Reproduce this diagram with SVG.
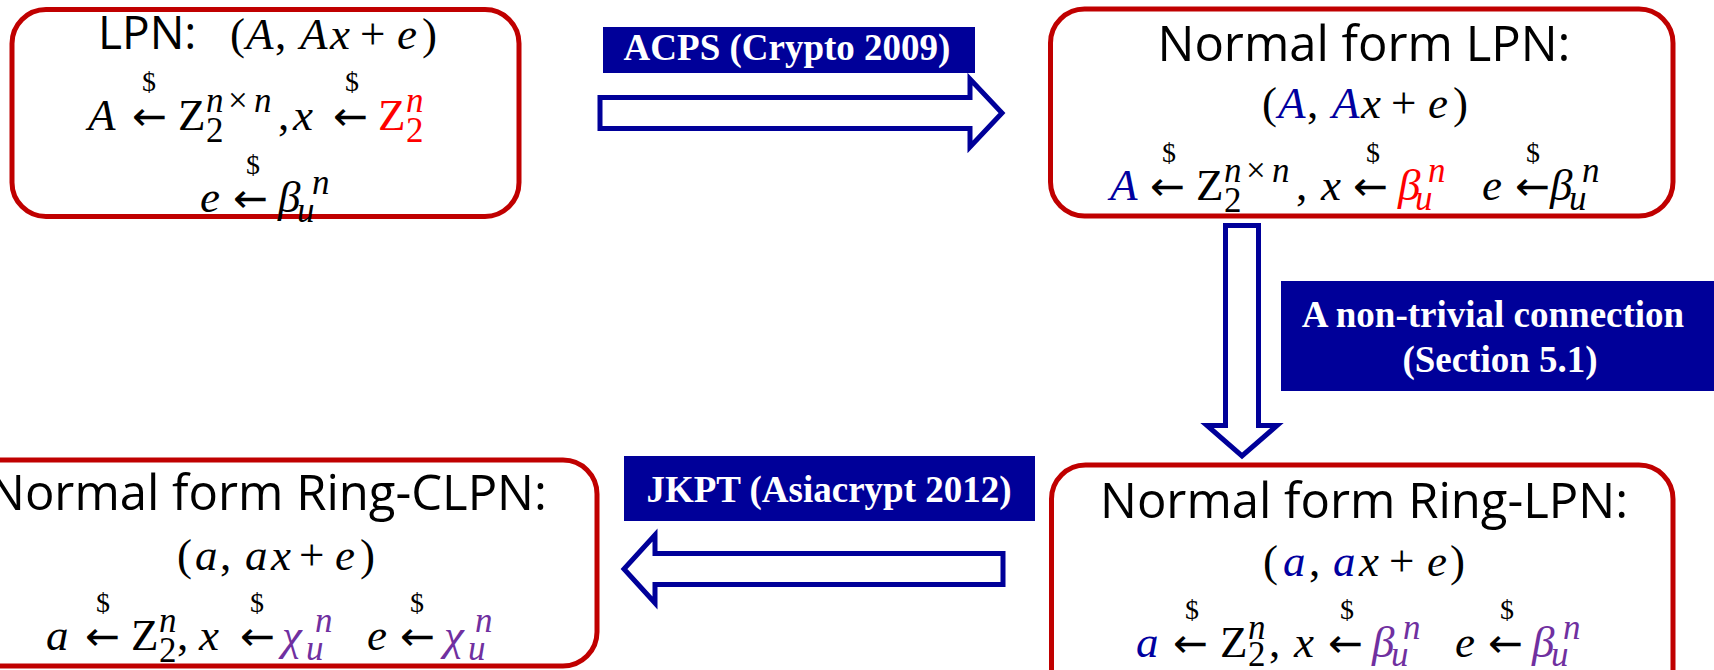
<svg xmlns="http://www.w3.org/2000/svg" width="1714" height="670" viewBox="0 0 1714 670">
<style>
.box{fill:#fff;stroke:#C00000;stroke-width:5}
.arrow{fill:#fff;stroke:#000099;stroke-width:5;stroke-linejoin:miter}
.lblbg{fill:#000099}
.lbl{font-family:"Liberation Serif",serif;font-weight:bold;font-size:37px;fill:#fff;text-anchor:middle}
.t{font-family:"Open Sans","Noto Sans",sans-serif;font-size:49px;fill:#000}
.m{font-family:"Liberation Serif","DejaVu Serif",serif;font-size:45px;fill:#000}
.la{font-family:"DejaVu Sans",sans-serif;font-size:40px;fill:#000}
.i{font-style:italic}
.s{font-size:35px}
.d{font-size:28px;text-anchor:middle}
.b{fill:#0000A0}
.r{fill:#FF0000}
.p{fill:#7030A0}
</style>
<defs>
<symbol id="la" overflow="visible"><text class="la" x="0" y="0" textLength="35" lengthAdjust="spacingAndGlyphs">←</text></symbol>
</defs>

<g id="connectors">
<polygon class="arrow" points="600,97.5 970,97.5 970,79 1002,113 970,147 970,128.5 600,128.5"/>
<rect class="lblbg" x="603" y="27" width="372" height="46"/>
<text class="lbl" x="787" y="60">ACPS (Crypto 2009)</text>

<polygon class="arrow" points="1225.5,225.5 1258.5,225.5 1258.5,425.5 1277,425.5 1242,456 1207,425.5 1225.5,425.5"/>
<rect class="lblbg" x="1281" y="281" width="440" height="110"/>
<text class="lbl" x="1493" y="327">A non-trivial connection</text>
<text class="lbl" x="1500" y="372">(Section 5.1)</text>

<polygon class="arrow" points="1003,553.5 655,553.5 655,535 624,569 655,603 655,584.5 1003,584.5"/>
<rect class="lblbg" x="624" y="456" width="411" height="65"/>
<text class="lbl" x="829" y="502">JKPT (Asiacrypt 2012)</text>
</g>

<g id="lpn">
<rect class="box" x="12" y="9.5" width="507" height="207" rx="34"/>
<text class="t" x="98" y="49" style="font-size:46px">LPN:</text>
<text class="m" y="49"><tspan x="230">(</tspan><tspan x="246" class="i">A</tspan><tspan x="275">,</tspan><tspan x="300" class="i">A</tspan><tspan x="330" class="i">x</tspan><tspan x="360">+</tspan><tspan x="397" class="i">e</tspan><tspan x="422">)</tspan></text>
<text class="m i" x="88" y="130">A</text>
<use href="#la" x="132" y="130"/>
<text class="m d" x="149" y="91">$</text>
<text class="m" x="178" y="130">Z</text>
<text class="m s" y="112"><tspan x="206" class="i">n</tspan><tspan x="228">×</tspan><tspan x="254" class="i">n</tspan></text>
<text class="m s" x="206" y="142">2</text>
<text class="m" x="278" y="130">,</text>
<text class="m i" x="293" y="130">x</text>
<use href="#la" x="333" y="130"/>
<text class="m d" x="352" y="91">$</text>
<text class="m r" x="378" y="130">Z</text>
<text class="m s i r" x="406" y="112">n</text>
<text class="m s r" x="406" y="142">2</text>
<text class="m i" x="200" y="212">e</text>
<use href="#la" x="233" y="212"/>
<text class="m d" x="253" y="174">$</text>
<text class="m i" x="278" y="212">β</text>
<text class="m s i" x="312" y="194">n</text>
<text class="m s i" x="297" y="222">u</text>
</g>

<g id="normal-lpn">
<rect class="box" x="1050.5" y="9" width="622.5" height="207" rx="34"/>
<text class="t" x="1364" y="61" text-anchor="middle">Normal form LPN:</text>
<text class="m" y="118"><tspan x="1262">(</tspan><tspan x="1278" class="i b">A</tspan><tspan x="1307">,</tspan><tspan x="1332" class="i b">A</tspan><tspan x="1361" class="i">x</tspan><tspan x="1391">+</tspan><tspan x="1428" class="i">e</tspan><tspan x="1453">)</tspan></text>
<text class="m i b" x="1110" y="200">A</text>
<use href="#la" x="1150" y="200"/>
<text class="m d" x="1169" y="162">$</text>
<text class="m" x="1196" y="200">Z</text>
<text class="m s" y="182"><tspan x="1224" class="i">n</tspan><tspan x="1246">×</tspan><tspan x="1272" class="i">n</tspan></text>
<text class="m s" x="1224" y="212">2</text>
<text class="m" x="1296" y="200">,</text>
<text class="m i" x="1321" y="200">x</text>
<use href="#la" x="1353" y="200"/>
<text class="m d" x="1373" y="162">$</text>
<text class="m i r" x="1398" y="200">β</text>
<text class="m s i r" x="1428" y="182">n</text>
<text class="m s i r" x="1415" y="210">u</text>
<text class="m i" x="1482" y="200">e</text>
<use href="#la" x="1515" y="200"/>
<text class="m d" x="1533" y="162">$</text>
<text class="m i" x="1550" y="200">β</text>
<text class="m s i" x="1582" y="182">n</text>
<text class="m s i" x="1569" y="210">u</text>
</g>

<g id="normal-ring-clpn">
<rect class="box" x="-60" y="460" width="657" height="206" rx="34"/>
<text class="t" x="-12" y="510">Normal form Ring-CLPN:</text>
<text class="m" y="570"><tspan x="177">(</tspan><tspan x="195" class="i">a</tspan><tspan x="220">,</tspan><tspan x="245" class="i">a</tspan><tspan x="271" class="i">x</tspan><tspan x="299">+</tspan><tspan x="335" class="i">e</tspan><tspan x="360">)</tspan></text>
<text class="m i" x="46" y="650">a</text>
<use href="#la" x="85" y="650"/>
<text class="m d" x="103" y="612">$</text>
<text class="m" x="131" y="650">Z</text>
<text class="m s i" x="159" y="632">n</text>
<text class="m s" x="159" y="662">2</text>
<text class="m" x="177" y="650">,</text>
<text class="m i" x="199" y="650">x</text>
<use href="#la" x="240" y="650"/>
<text class="m d" x="257" y="612">$</text>
<text class="m i p" x="282" y="650">χ</text>
<text class="m s i p" x="315" y="632">n</text>
<text class="m s i p" x="306" y="660">u</text>
<text class="m i" x="367" y="650">e</text>
<use href="#la" x="400" y="650"/>
<text class="m d" x="417" y="612">$</text>
<text class="m i p" x="444" y="650">χ</text>
<text class="m s i p" x="475" y="632">n</text>
<text class="m s i p" x="468" y="660">u</text>
</g>

<g id="normal-ring-lpn">
<rect class="box" x="1051.5" y="465" width="621.5" height="260" rx="34"/>
<text class="t" x="1364" y="518" text-anchor="middle">Normal form Ring-LPN:</text>
<text class="m" y="576"><tspan x="1263">(</tspan><tspan x="1283" class="i b">a</tspan><tspan x="1309">,</tspan><tspan x="1333" class="i b">a</tspan><tspan x="1359" class="i">x</tspan><tspan x="1389">+</tspan><tspan x="1427" class="i">e</tspan><tspan x="1450">)</tspan></text>
<text class="m i b" x="1136" y="657">a</text>
<use href="#la" x="1173" y="657"/>
<text class="m d" x="1192" y="619">$</text>
<text class="m" x="1220" y="657">Z</text>
<text class="m s i" x="1248" y="639">n</text>
<text class="m s" x="1248" y="666">2</text>
<text class="m" x="1269" y="657">,</text>
<text class="m i" x="1294" y="657">x</text>
<use href="#la" x="1328" y="657"/>
<text class="m d" x="1347" y="619">$</text>
<text class="m i p" x="1372" y="657">β</text>
<text class="m s i p" x="1403" y="639">n</text>
<text class="m s i p" x="1391" y="666">u</text>
<text class="m i" x="1455" y="657">e</text>
<use href="#la" x="1488" y="657"/>
<text class="m d" x="1507" y="619">$</text>
<text class="m i p" x="1532" y="657">β</text>
<text class="m s i p" x="1563" y="639">n</text>
<text class="m s i p" x="1551" y="666">u</text>
</g>
</svg>
